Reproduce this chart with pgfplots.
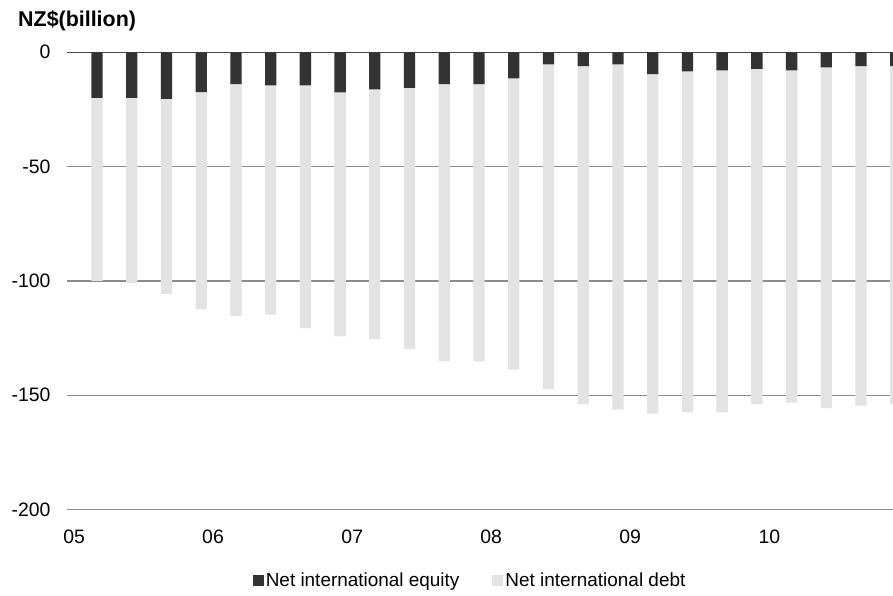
\documentclass[border=0pt]{standalone}
\usepackage{fontspec}
\setmainfont{Liberation Sans}
\usepackage{pgfplots}
\usepackage{pgfplotstable}
\pgfplotsset{compat=1.18}
\definecolor{eqc}{HTML}{333333}
\definecolor{debtc}{HTML}{E3E3E3}
\definecolor{gridc}{HTML}{8C8C8C}
\definecolor{zeroc}{HTML}{484848}
\pgfplotstableread{
idx eq debt
0 -19.9 -80.1
1 -19.9 -81.0
2 -20.4 -85.3
3 -17.4 -94.9
4 -13.9 -101.4
5 -14.5 -100.2
6 -14.5 -106.2
7 -17.5 -106.8
8 -16.2 -109.3
9 -15.6 -114.2
10 -13.9 -121.2
11 -13.9 -121.3
12 -11.4 -127.4
13 -5.3 -142.0
14 -6.0 -147.9
15 -5.3 -151.0
16 -9.6 -148.5
17 -8.3 -149.2
18 -7.9 -149.6
19 -7.2 -146.7
20 -7.9 -145.3
21 -6.6 -149.0
22 -6.0 -148.6
23 -6.0 -147.9
}\data
\begin{document}
\begin{tikzpicture}
\useasboundingbox (0,0) rectangle (893bp,596bp);
\begin{axis}[
  at={(67bp,86.5bp)}, anchor=south west,
  width=826bp, height=457.2bp, scale only axis,
  xmin=-0.864, xmax=22.92, ymin=-200, ymax=0,
  ybar stacked, bar width=11.3bp,
  axis line style={draw=none}, major tick length=0pt,
  ytick={-200,-150,-100,-50,0},
  ymajorgrids, grid style={gridc, line width=1.3bp},
  xtick={-0.66,3.34,7.35,11.35,15.35,19.36},
  xticklabels={05,06,07,08,09,10},
  tick label style={font=\fontsize{19.5}{22}\selectfont, text=black},
  /pgf/number format/assume math mode=true,
  yticklabel style={xshift=-13bp},
  xticklabel style={yshift=-17bp},
  legend columns=2,
  legend style={draw=none, fill=none, at={(0.488,-0.1543)}, anchor=center,
    font=\fontsize{19}{22}\selectfont,
    /tikz/every even column/.append style={column sep=31bp},
    inner sep=0pt},
  legend image code/.code={\fill[#1] (0bp,-5.5bp) rectangle (11bp,5.5bp);},
]
\addplot[fill=eqc, draw=none] table[x=idx,y=eq]{\data};
\addlegendentry{Net international equity}
\addplot[fill=debtc, draw=none] table[x=idx,y=debt]{\data};
\addlegendentry{Net international debt}
\draw[zeroc, line width=2bp] (rel axis cs:0,1) -- (rel axis cs:1,1);
\draw[zeroc, line width=1.3bp] (rel axis cs:0,1) -- ++(0,-7bp);
\end{axis}
\node[anchor=base west, inner sep=0pt, font=\bfseries\fontsize{21.5}{25}\selectfont] at (18bp,569bp) {NZ\$(billion)};
\end{tikzpicture}
\end{document}
